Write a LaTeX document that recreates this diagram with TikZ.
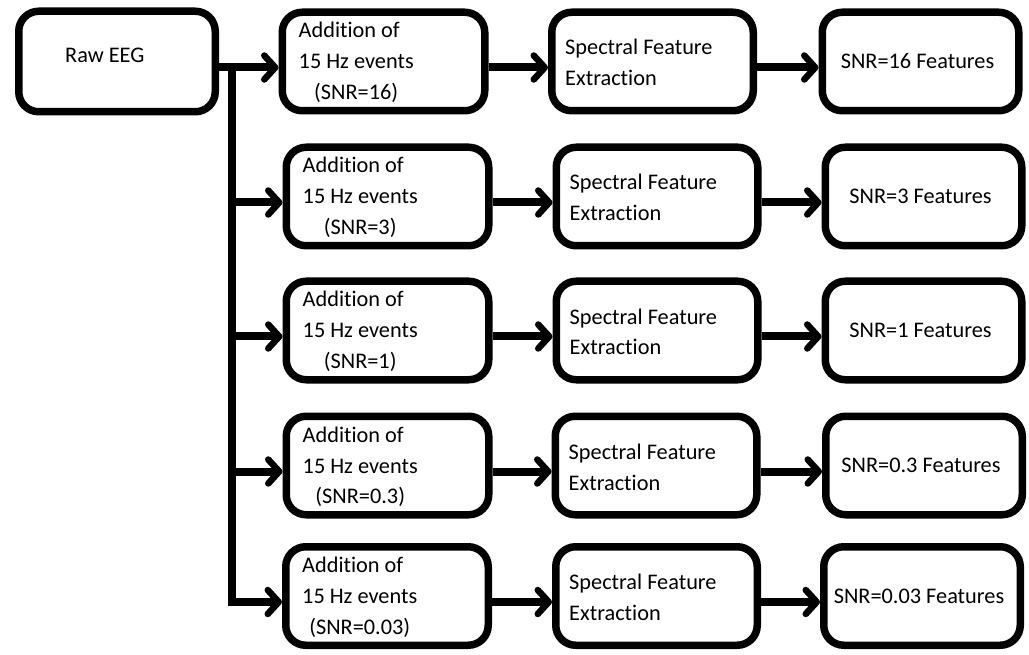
\documentclass[tikz,border=0pt]{standalone}
\usepackage{fontspec}
\setmainfont{Carlito}[Ligatures=NoCommon]
\usetikzlibrary{arrows.meta}
\begin{document}
\begin{tikzpicture}[x=1pt,y=-1pt,
  box/.style={draw, line width=7.5pt, rounded corners=20pt, inner sep=0pt, minimum height=98.5pt},
  addbox/.style={box, minimum width=202.5pt},
  specbox/.style={box, minimum width=201.5pt},
  featbox/.style={box, minimum width=196.5pt},
  txt/.style={inner sep=0pt, font=\fontsize{22.3}{31}\selectfont},
  conn/.style={line width=8pt},
  arr/.style={conn, -{Straight Barb[length=11pt,width=24pt,line width=6.5pt,round]}}]
\useasboundingbox (0,0) rectangle (1029,655);
% source
\node[box, minimum width=196.5pt, minimum height=100.5pt] (raw) at (117,61.5) {};
\node[txt, anchor=base west] (rawt) at ([xshift=50pt,yshift=-1.5pt]raw.west) {Raw EEG};
% rows
\foreach \i/\y/\s/\ax/\sx/\fx in {1/61.5/16/383.5/652.5/920.5,
                                  2/196.5/3/387.5/657/923.5,
                                  3/330.5/1/387.5/657/923.5,
                                  4/465.5/0.3/387.5/656/924,
                                  5/596/0.03/387/656.5/922}{
  \node[addbox] (a\i) at (\ax,\y) {};
  \node[specbox] (s\i) at (\sx,\y) {};
  \node[featbox] (f\i) at (\fx,\y) {};
  \node[txt, anchor=base west] (at\i) at ([xshift=20pt,yshift=23.5pt]a\i.west)
    {\begin{tabular}[t]{@{}l@{}}Addition of\\15 Hz events\\\multicolumn{1}{@{}c@{}}{(SNR=\s)}\end{tabular}};
  \node[txt, anchor=base west] (st\i) at ([xshift=17pt,yshift=6.5pt]s\i.west)
    {\begin{tabular}[t]{@{}l@{}}Spectral Feature\\Extraction\end{tabular}};
  \node[txt, anchor=base] (ft\i) at ([xshift=-3pt,yshift=-7pt]f\i.center) {SNR=\s{} Features};
  \coordinate (j\i) at (232,\y+6);
  \draw[arr] ([yshift=-6pt]a\i.east) -- ([yshift=-6pt]s\i.west);
  \draw[arr] ([yshift=-6pt]s\i.east) -- ([yshift=-6pt]f\i.west);
}
% trunk and branches
\draw[arr] ([yshift=-6pt]raw.east) -- ([yshift=-6pt]a1.west);
\foreach \i in {2,3,4}{
  \draw[arr] (j\i) -- (j\i -| a\i.west);
}
\draw[arr] (j1) -- (j5) -- (j5 -| a5.west);
\end{tikzpicture}
\end{document}
